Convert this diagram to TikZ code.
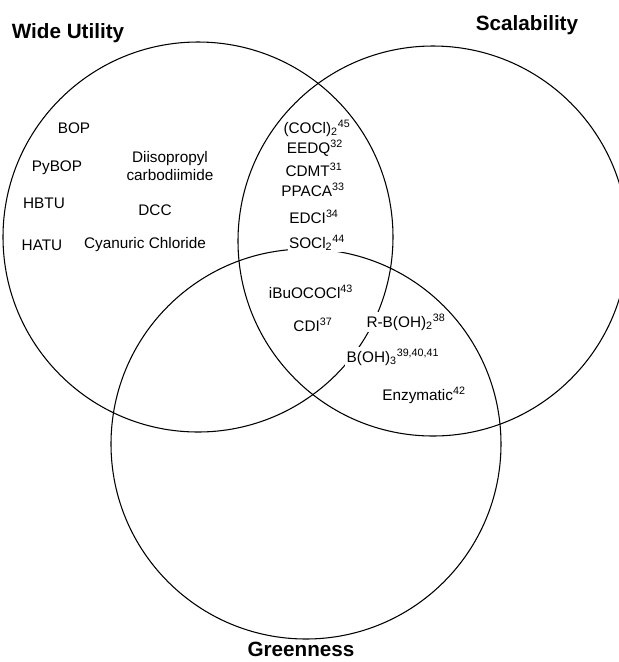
\documentclass[tikz,border=0pt]{standalone}
\usepackage{fontspec}
\setmainfont{Liberation Sans}

\begin{document}
\begin{tikzpicture}[
    x=0.75pt, y=-0.75pt,
    every node/.style={font=\fontsize{11.5}{13}\selectfont, inner sep=1pt},
    set/.style={line width=0.8pt},
    title/.style={font=\fontsize{15.5}{18}\selectfont\bfseries},
    mask/.style={fill=white, inner sep=1pt}
]
\useasboundingbox (0,0) rectangle (619,662);

% Circle centres
\coordinate (wide)  at (198,237);
\coordinate (scale) at (433,241);
\coordinate (green) at (306,444);

% The three sets
\draw[set] (wide)  circle (195);
\draw[set] (scale) circle (195);
\draw[set] (green) circle (195);

% Set titles
\node[title] (tWide)  at (68,33)   {Wide Utility};
\node[title] (tScale) at (527,25)  {Scalability};
\node[title] (tGreen) at (301,649) {Greenness};

% Wide utility only
\node (bop)   at (74,128)  {BOP};
\node (pybop) at (57,168)  {PyBOP};
\node (hbtu)  at (44,203)  {HBTU};
\node (hatu)  at (42,245)  {HATU};
\node[align=center] (dic) at (170,166) {Diisopropyl\\carbodiimide};
\node (dcc)   at (155,210) {DCC};
\node (cyan)  at (145,245) {Cyanuric Chloride};

% Wide utility and scalability
\node (cocl)  at (317,128) {(COCl)\textsubscript{2}\textsuperscript{45}};
\node (eedq)  at (315,148) {EEDQ\textsuperscript{32}};
\node (cdmt)  at (314,170) {CDMT\textsuperscript{31}};
\node (ppaca) at (313,190) {PPACA\textsuperscript{33}};
\node (edci)  at (314,217) {EDCI\textsuperscript{34}};
\node[mask] (socl) at (317,243) {SOCl\textsubscript{2}\textsuperscript{44}};

% All three sets
\node (ibu)   at (311,292) {iBuOCOCl\textsuperscript{43}};
\node (cdi)   at (313,325) {CDI\textsuperscript{37}};

% Scalability and greenness
\node[mask] (rboh) at (406,322) {R-B(OH)\textsubscript{2}\textsuperscript{38}};
\node[mask] (boh)  at (393,357) {B(OH)\textsubscript{3}\textsuperscript{39,40,41}};
\node (enz)   at (424,395) {Enzymatic\textsuperscript{42}};

\end{tikzpicture}
\end{document}
